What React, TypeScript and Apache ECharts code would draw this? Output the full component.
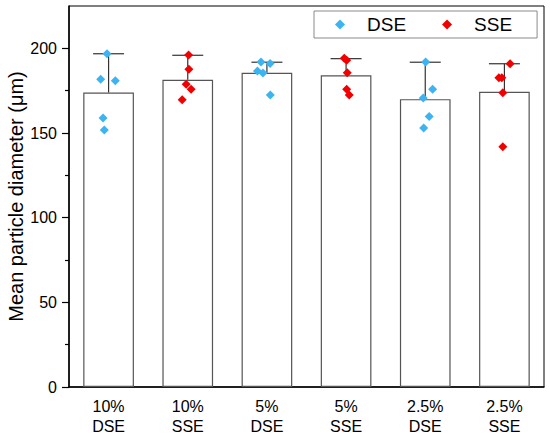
import React, { useEffect, useRef } from "react";
import * as echarts from "echarts";

const categories = ["10%\nDSE", "10%\nSSE", "5%\nDSE", "5%\nSSE", "2.5%\nDSE", "2.5%\nSSE"];
const means = [173.9, 181.4, 185.6, 184.1, 170.0, 174.3];
const upperValues = [196.8, 195.9, 191.8, 193.9, 191.8, 190.9];
const yTickValues = [0, 50, 100, 150, 200];
const yMinorTickValues = [25, 75, 125, 175];

// DSE replicate points: category index, horizontal jitter, value
const dseGroups = [0, 2, 4];
const dseValues = [
  [196.8, 181.8, 180.8, 158.8, 151.8],
  [191.9, 191.0, 186.6, 185.5, 172.5],
  [191.9, 175.9, 170.6, 159.8, 152.9],
];
const dseJitter = [
  [-0.02, -0.1, 0.085, -0.07, -0.054],
  [-0.075, 0.04, -0.12, -0.05, 0.043],
  [0.005, 0.093, -0.025, 0.05, -0.02],
];

// SSE replicate points
const sseGroups = [1, 3, 5];
const sseValues = [
  [196.1, 187.6, 178.8, 175.9, 169.6],
  [194.1, 193.0, 185.6, 175.9, 172.4],
  [190.9, 182.7, 182.7, 173.7, 141.9],
];
const sseJitter = [
  [0.01, 0.014, -0.02, 0.043, -0.07],
  [-0.023, 0.008, 0.015, 0.008, 0.04],
  [0.072, -0.07, -0.033, -0.02, -0.02],
];

const FONT = "'Liberation Sans', Arial, sans-serif";

function buildPoints(groups: number[], values: number[][], jitter: number[][]) {
  const out: number[][] = [];
  groups.forEach((g, gi) => {
    values[gi].forEach((v, i) => out.push([g + jitter[gi][i], v]));
  });
  return out;
}

export default function App() {
  const ref = useRef<HTMLDivElement>(null);
  useEffect(() => {
    if (!ref.current) return;
    const chart = echarts.init(ref.current, null, { renderer: "svg" });
    const option: any = {
      animation: false,
      backgroundColor: "#fff",
      textStyle: { fontFamily: FONT },
      grid: {
        left: 69,
        right: 6,
        top: 6,
        bottom: 51,
        containLabel: false,
        outerBoundsMode: "none",
        show: true,
        borderColor: "#000",
        borderWidth: 1,
        backgroundColor: "transparent",
      },
      legend: {
        left: 314,
        top: 11,
        orient: "horizontal",
        padding: [3, 25, 3, 21],
        itemWidth: 10,
        itemHeight: 10,
        itemGap: 36,
        borderColor: "#8a8a8a",
        borderWidth: 1,
        backgroundColor: "#fff",
        icon: "diamond",
        textStyle: {
          fontSize: 19,
          lineHeight: 21,
          color: "#000",
          fontFamily: FONT,
          padding: [0, 0, 0, 17],
        },
        data: ["DSE", "SSE"],
      },
      xAxis: [
        {
          type: "category",
          data: categories,
          axisLine: { onZero: false, lineStyle: { color: "#000", width: 1.5 } },
          axisTick: { alignWithLabel: true, length: 6, lineStyle: { color: "#000", width: 1.2 } },
          axisLabel: { fontSize: 16, lineHeight: 20, color: "#000", margin: 9, fontFamily: FONT },
          splitLine: { show: false },
        },
        {
          type: "value",
          min: -0.5,
          max: 5.5,
          show: false,
          axisLine: { onZero: false },
          splitLine: { show: false },
        },
      ],
      yAxis: [
        {
          type: "value",
          min: 0,
          max: 225,
          interval: 25,
          position: "left",
          name: "Mean particle diameter (μm)",
          nameLocation: "middle",
          nameGap: 43,
          nameMoveOverlap: false,
          nameTextStyle: { fontSize: 20, color: "#000", fontFamily: FONT },
          axisLine: { show: true, onZero: false, lineStyle: { color: "#000", width: 1.5 } },
          axisTick: {
            show: true,
            inside: false,
            length: 7,
            customValues: yTickValues,
            lineStyle: { color: "#000", width: 1.2 },
          },
          axisLabel: {
            fontSize: 16,
            color: "#000",
            margin: 12,
            customValues: yTickValues,
            fontFamily: FONT,
          },
          splitLine: { show: false },
        },
        {
          type: "value",
          min: 0,
          max: 225,
          interval: 25,
          position: "left",
          offset: 0,
          axisLine: { show: false, onZero: false },
          axisTick: {
            show: true,
            inside: false,
            length: 4,
            customValues: yMinorTickValues,
            lineStyle: { color: "#000", width: 1.2 },
          },
          axisLabel: { show: false },
          splitLine: { show: false },
        },
      ],
      series: [
        {
          type: "bar",
          name: "Mean",
          xAxisIndex: 0,
          yAxisIndex: 0,
          data: means,
          barWidth: "64%",
          itemStyle: { color: "#fff", borderColor: "#555", borderWidth: 1.2 },
          z: 2,
          silent: true,
        },
        {
          type: "custom",
          name: "Error",
          xAxisIndex: 0,
          yAxisIndex: 0,
          data: means.map((m, i) => [i, m, upperValues[i]]),
          encode: { x: 0, y: [1, 2] },
          z: 3,
          silent: true,
          renderItem: (params: any, api: any) => {
            const x = api.value(0);
            const p0 = api.coord([x, api.value(1)]);
            const p1 = api.coord([x, api.value(2)]);
            const half = 15.5;
            const style = { stroke: "#333", lineWidth: 1.2 };
            return {
              type: "group",
              children: [
                { type: "line", shape: { x1: p0[0], y1: p0[1], x2: p1[0], y2: p1[1] }, style },
                { type: "line", shape: { x1: p1[0] - half, y1: p1[1], x2: p1[0] + half, y2: p1[1] }, style },
              ],
            };
          },
        },
        {
          type: "scatter",
          name: "DSE",
          xAxisIndex: 1,
          yAxisIndex: 0,
          symbol: "diamond",
          symbolSize: [9, 9],
          itemStyle: { color: "#3db4f2", opacity: 1 },
          data: buildPoints(dseGroups, dseValues, dseJitter),
          z: 4,
        },
        {
          type: "scatter",
          name: "SSE",
          xAxisIndex: 1,
          yAxisIndex: 0,
          symbol: "diamond",
          symbolSize: [9, 9],
          itemStyle: { color: "#f20000", opacity: 1 },
          data: buildPoints(sseGroups, sseValues, sseJitter),
          z: 4,
        },
      ],
    };
    chart.setOption(option);
    return () => chart.dispose();
  }, []);
  return (
    <div
      ref={ref}
      style={{ position: "fixed", left: 0, top: 0, width: 550, height: 438, background: "#fff" }}
    />
  );
}
